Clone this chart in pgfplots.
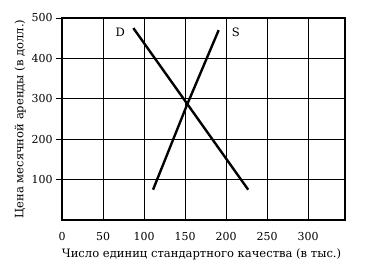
\documentclass[border=0pt]{standalone}
\usepackage{pgfplots}
\pgfplotsset{compat=1.18}
\usepackage{fontspec}
\setmainfont{DejaVu Serif}
\begin{document}
\begin{tikzpicture}
\begin{axis}[
  scale only axis,
  width=283bp, height=202bp,
  xmin=0, xmax=345, ymin=0, ymax=500,
  xtick={0,50,100,150,200,250,300},
  ytick={100,200,300,400,500},
  grid=major,
  grid style={black, line width=0.7pt},
  axis line style={black, line width=1.1pt},
  tick align=outside,
  ytick pos=left,
  xtick pos=bottom,
  xtick style={draw=none},
  ytick style={black, line width=0.9pt},
  major tick length=6bp,
  /pgf/number format/assume math mode=true,
  ticklabel style={font=\fontsize{11}{12}\selectfont},
  xticklabel style={yshift=-3bp},
  label style={font=\fontsize{11.6}{12}\selectfont},
  xlabel={Число единиц стандартного качества (в тыс.)},
  ylabel={Цена месячной аренды (в долл.)},
  xlabel style={yshift=-1bp, xshift=-2bp},
  ylabel style={yshift=-1bp},
  clip=false,
]
\addplot[black, line width=2.4pt] coordinates {(87,475) (227,75)};
\addplot[black, line width=2.4pt] coordinates {(111,75) (152,283) (191,470)};
\node[font=\fontsize{11.6}{12}\selectfont] at (axis cs:71,464) {D};
\node[font=\fontsize{11.6}{12}\selectfont] at (axis cs:212,464) {S};
\end{axis}
\path (current axis.south west) ++(-62bp,-48bp) rectangle ++(367bp,268bp);
\end{tikzpicture}
\end{document}
